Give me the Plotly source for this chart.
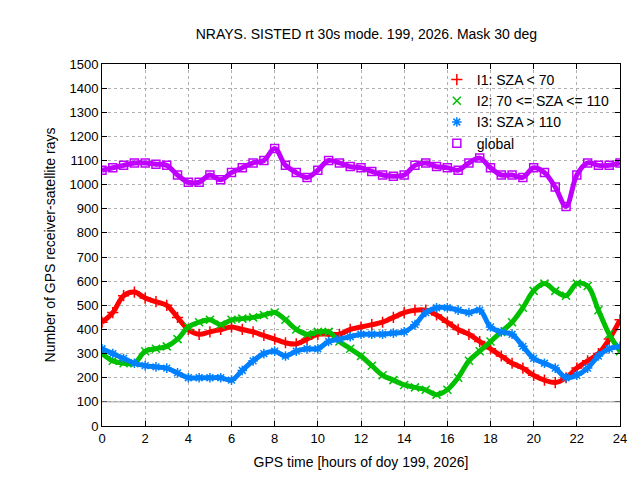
# -*- coding: utf-8 -*-
"""
NRAYS plot for SISTED rt 30s mode, day 199 of 2026
"""

import plotly.graph_objects as go

hours = [0, 0.5, 1, 1.5, 2, 2.5, 3, 3.5, 4, 4.5, 5, 5.5, 6, 6.5, 7, 7.5, 8, 8.5, 9, 9.5,
         10, 10.5, 11, 11.5, 12, 12.5, 13, 13.5, 14, 14.5, 15, 15.5, 16, 16.5, 17, 17.5,
         18, 18.5, 19, 19.5, 20, 20.5, 21, 21.5, 22, 22.5, 23, 23.5, 24]

i1 = [430, 470, 540, 555, 530, 515, 500, 450, 400, 380, 390, 400, 410, 400, 390, 375, 360, 345, 340, 360,
      380, 380, 380, 400, 410, 420, 430, 450, 470, 480, 480, 460, 430, 400, 380, 350,
      320, 290, 260, 240, 210, 190, 180, 200, 240, 270, 300, 360, 440]
i2 = [300, 270, 260, 260, 310, 320, 330, 360, 410, 430, 440, 420, 440, 445, 450, 460, 470, 440, 400, 380,
      390, 390, 350, 320, 290, 250, 210, 190, 170, 160, 150, 130, 150, 200, 270, 310,
      350, 390, 430, 490, 560, 590, 560, 540, 590, 580, 480, 380, 310]
i3 = [320, 300, 280, 260, 250, 245, 240, 220, 200, 200, 200, 200, 190, 230, 270, 300, 310, 290, 310, 320,
      320, 350, 360, 370, 380, 380, 380, 385, 390, 420, 470, 490, 490, 480, 470, 480,
      410, 390, 380, 330, 280, 260, 240, 200, 210, 240, 290, 320, 330]
glob = [1060, 1070, 1080, 1090, 1090, 1085, 1080, 1040, 1010, 1010, 1040, 1020, 1050, 1070, 1090, 1100, 1150, 1080, 1050, 1030,
        1060, 1100, 1090, 1075, 1070, 1055, 1040, 1035, 1040, 1080, 1090, 1075, 1070, 1060, 1090, 1110,
        1070, 1040, 1040, 1030, 1070, 1050, 990, 910, 1040, 1090, 1080, 1080, 1090]

series = [("I1: SZA < 70", i1, "#ff0000", "cross-thin-open"),
          ("I2: 70 <= SZA <= 110", i2, "#00c000", "x-thin-open"),
          ("I3: SZA > 110", i3, "#0080ff", "asterisk-open"),
          ("global", glob, "#c000ff", "square-open")]

fig = go.Figure()
for name, vals, colour, symbol in series:
    fig.add_trace(go.Scatter(x=hours, y=vals, name=name, mode='lines+markers', showlegend=False,
                             line=dict(color=colour, width=5, shape='spline'),
                             marker=dict(color=colour, symbol=symbol, size=8, line=dict(width=1.5, color=colour))))
    fig.add_trace(go.Scatter(x=[None], y=[None], name=name, mode='markers',  # legend entry only
                             marker=dict(color=colour, symbol=symbol, size=8, line=dict(width=1.5, color=colour))))

fig.add_hline(y=100, line=dict(color='#a0a0a0', width=1))

axis = dict(showline=True, mirror='ticks', linecolor='black', linewidth=1, ticks='inside',
            tickcolor='black', showgrid=True, gridcolor='#b0b0b0', griddash='dot', zeroline=False,
            automargin=False, tickfont=dict(size=13), title_font=dict(size=14))
fig.update_xaxes(range=[0, 24], dtick=2, title_text="GPS time [hours of doy 199, 2026]", title_standoff=12, **axis)
fig.update_yaxes(range=[0, 1500], dtick=100, title_text="Number of GPS receiver-satellite rays", title_standoff=10, **axis)
fig.update_layout(width=640, height=480, plot_bgcolor='white', paper_bgcolor='white',
                  font=dict(family='Liberation Sans', size=13, color='black'),
                  title=dict(text="NRAYS. SISTED rt 30s mode. 199, 2026. Mask 30 deg", x=0.56, xanchor='center',
                             y=0.955, font=dict(size=14), automargin=False),
                  margin=dict(l=94, r=28, t=56, b=62, autoexpand=False),
                  legend=dict(x=0.99, y=1.0, xanchor='right', yanchor='top', bgcolor='rgba(0,0,0,0)',
                              font=dict(size=14), tracegroupgap=0))

fig.write_html("out.html")
